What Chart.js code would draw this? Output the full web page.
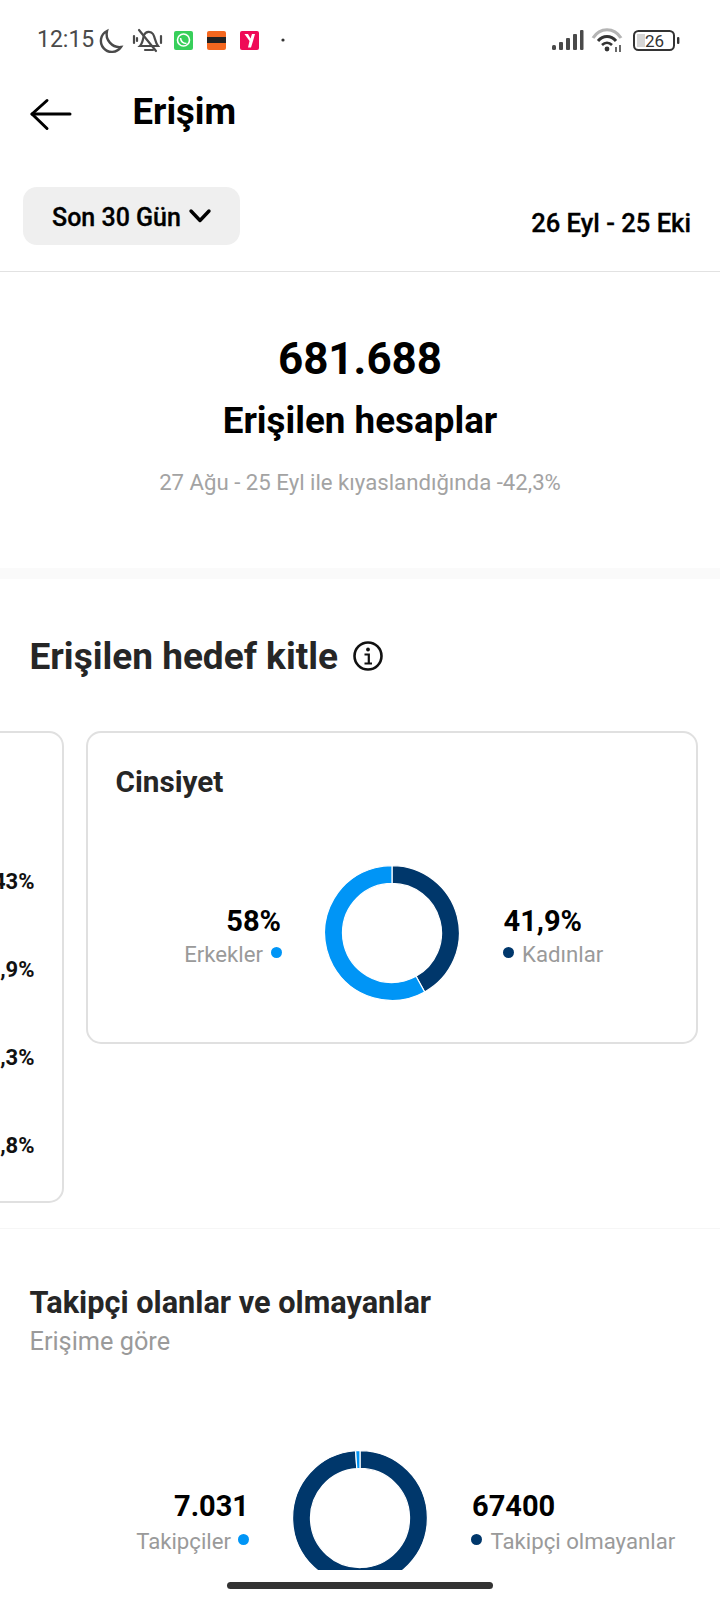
<!DOCTYPE html>
<html lang="tr">
<head>
<meta charset="utf-8">
<title>Erişim</title>
<script src="https://cdn.jsdelivr.net/npm/chart.js@4"></script>
<style>
html,body{margin:0;padding:0;background:#fff}
#page{position:relative;width:720px;height:1600px;overflow:hidden;background:#fff;font-family:Roboto,sans-serif}
.t{position:absolute;white-space:nowrap;line-height:40px;height:40px;margin-top:-20px}
.r{transform:translateX(-100%)}
.c{transform:translateX(-50%)}
.box{position:absolute;box-sizing:border-box}
.dot{position:absolute;width:11px;height:11px;border-radius:50%;margin:-5.5px 0 0 -5.5px}
svg{position:absolute;overflow:visible}
.clip{position:absolute;overflow:hidden}
canvas{display:block}
</style>
</head>
<body>
<div id="page">
  <!-- status bar -->
  <div class="t" style="left:37px;top:40px;font-size:23px;color:#4a4a4a">12:15</div>
  <svg style="left:0;top:0" width="720" height="60">
    <path d="M107 31 A11 11 0 1 0 121 47 A13 13 0 0 1 107 31 Z" fill="none" stroke="#4a4a4a" stroke-width="2.4"/>
    <g fill="none" stroke="#4a4a4a" stroke-width="2.2" stroke-linecap="round">
      <path d="M140 46 C143 43 143 38 144 35 C146 31 151 31 153 34 C155 37 155 42 158 46 Z"/>
      <path d="M145 50 H153"/><path d="M139 30 L156 51"/>
      <path d="M134 36 V43"/><path d="M161 36 V43"/><path d="M137 38 V41"/>
    </g>
    <rect x="174" y="31" width="19" height="19" rx="2" fill="#37cf5a"/>
    <circle cx="183.5" cy="40" r="6" fill="none" stroke="#fff" stroke-width="1.6"/>
    <path d="M180.5 38 C181 42 183 43.5 186.5 43.5" fill="none" stroke="#fff" stroke-width="1.6"/>
    <rect x="207" y="31" width="19" height="19" rx="2" fill="#f4671f"/>
    <rect x="207" y="37" width="19" height="6" fill="#222"/>
    <rect x="240" y="31" width="19" height="19" rx="2" fill="#ef0b57"/>
    <path d="M244.5 34 L249.5 41 L248 47.5 L251 47.5 L253 41 L255 34 L252 34 L250.5 38.5 L248 34 Z" fill="#fff"/>
    <circle cx="283" cy="40" r="1.6" fill="#333"/>
    <g fill="#4a4a4a">
      <rect x="552" y="45" width="4" height="5" rx="1.5"/><rect x="559" y="42" width="4" height="8" rx="1"/>
      <rect x="566" y="38" width="4" height="12" rx="1"/><rect x="573" y="34" width="4" height="16" rx="1"/>
      <rect x="580" y="30" width="3.5" height="20" rx="1"/>
    </g>
    <path d="M593 38 C600 27 614 27 621 38" fill="none" stroke="#b4b4b4" stroke-width="3.2"/>
    <path d="M598 41 C603 35 611 35 616 41" fill="none" stroke="#333" stroke-width="3"/>
    <path d="M602 45 C605 42 609 42 612 45" fill="none" stroke="#333" stroke-width="2.6"/>
    <circle cx="607" cy="49" r="2.4" fill="#333"/>
    <path d="M616 47 V52 M620 45 V52" stroke="#444" stroke-width="1.6"/>
    <rect x="634" y="31" width="40" height="19" rx="4.5" fill="none" stroke="#333" stroke-width="2"/>
    <rect x="637" y="34" width="8" height="13" fill="#d5d5d5"/>
    <rect x="677" y="37" width="2.4" height="7" rx="1" fill="#333"/>
    <!-- back arrow -->
    <g fill="none" stroke="#000" stroke-width="3" stroke-linecap="round" stroke-linejoin="round">
      <path d="M32 114 H70"/><path d="M47 100.5 L32 114 L47 128.5"/>
    </g>
  </svg>
  <div class="t" style="left:645px;top:41px;font-size:17px;color:#333">26</div>
  <div class="t" id="h1" style="left:132.5px;top:112px;font-size:36.5px;font-weight:700;color:#000">Erişim</div>
  <div class="box" style="left:22.5px;top:187px;width:217.5px;height:58px;border-radius:14px;background:#efefef"></div>
  <svg style="left:0;top:0" width="720" height="250">
    <path d="M191 211 L200 220.5 L209 211" fill="none" stroke="#000" stroke-width="3.4" stroke-linecap="round" stroke-linejoin="round"/>
  </svg>
  <div class="t" style="left:52px;top:218px;font-size:25px;font-weight:500;color:#000;-webkit-text-stroke:.3px #000">Son 30 Gün</div>
  <div class="t r" style="left:691px;top:223px;font-size:25.6px;font-weight:500;color:#000;-webkit-text-stroke:.3px #000">26 Eyl - 25 Eki</div>
  <div class="box" style="left:0;top:270.5px;width:720px;height:1.5px;background:#e2e2e2"></div>

  <div class="t c" style="left:360px;top:359px;font-size:44px;font-weight:700;color:#000">681.688</div>
  <div class="t c" style="left:360px;top:421px;font-size:36.8px;font-weight:700;color:#000">Erişilen hesaplar</div>
  <div class="t c" style="left:360px;top:482px;font-size:22.2px;color:#a3a3a3">27 Ağu - 25 Eyl ile kıyaslandığında -42,3%</div>
  <div class="box" style="left:0;top:568px;width:720px;height:11px;background:#fafafa"></div>

  <div class="t" style="left:29.5px;top:657px;font-size:37px;font-weight:700;color:#262626">Erişilen hedef kitle</div>
  <svg style="left:0;top:0" width="720" height="700">
    <circle cx="368" cy="656" r="13.5" fill="none" stroke="#111" stroke-width="2.6"/>
    <circle cx="368" cy="649.5" r="1.9" fill="#111"/>
    <path d="M364.5 654.5 H368.8 V663 M364.5 663.5 H372" fill="none" stroke="#111" stroke-width="2.2"/>
  </svg>

  <!-- cards -->
  <div class="box" style="left:-40px;top:731px;width:104px;height:472px;border:2px solid #e0e0e0;border-radius:15px"></div>
  <div class="box" style="left:85.5px;top:731px;width:612px;height:313px;border:2px solid #e0e0e0;border-radius:15px"></div>
  <div id="ageValues"></div>
  <div class="t" style="left:115.5px;top:782px;font-size:29.7px;font-weight:700;color:#262626">Cinsiyet</div>

  <div id="genderLegend"></div>
  <div class="clip" style="left:324px;top:864.5px;width:136px;height:136px"><canvas id="genderChart" width="136" height="136"></canvas></div>

  <div class="box" style="left:0;top:1228px;width:720px;height:1px;background:#f6f6f6"></div>
  <div class="t" style="left:29.5px;top:1303px;font-size:30.7px;font-weight:700;color:#262626">Takipçi olanlar ve olmayanlar</div>
  <div class="t" style="left:29.5px;top:1342px;font-size:25.3px;color:#9a9a9a">Erişime göre</div>

  <div id="followLegend"></div>
  <div class="clip" style="left:292px;top:1450px;width:136px;height:120px"><canvas id="followChart" width="136" height="136"></canvas></div>

  <div class="box" style="left:227px;top:1582px;width:266px;height:7px;border-radius:4px;background:#333"></div>
</div>

<script>
// Age card, only the right end of its values is on screen
const ageValueLabels = ["43%", ",9%", ",3%", ",8%"];

// Gender
const genderLabels = ["Kadınlar", "Erkekler"];
const genderValues = [41.9, 58];
const genderValueLabels = ["41,9%", "58%"];

// Followers / non-followers
const followLabels = ["Takipçi olmayanlar", "Takipçiler"];
const followValues = [674657, 7031];
const followValueLabels = ["67400", "7.031"];

const darkBlue = "#00376b";
const lightBlue = "#0095f6";

function addText(parent, text, cls, left, top, style) {
  const el = document.createElement("div");
  el.className = "t " + cls;
  el.textContent = text;
  el.style.cssText = "left:" + left + "px;top:" + top + "px;" + style;
  parent.appendChild(el);
}
function addDot(parent, left, top, color) {
  const el = document.createElement("div");
  el.className = "dot";
  el.style.cssText = "left:" + left + "px;top:" + top + "px;background:" + color;
  parent.appendChild(el);
}

const valueStyle = "font-size:29px;font-weight:700;color:#000";
const labelStyle = "font-size:22.2px;color:#9a9a9a";

const ageBox = document.getElementById("ageValues");
const ageRows = [882, 970, 1058, 1146];
ageValueLabels.forEach((s, i) => addText(ageBox, s, "r", 34.5, ageRows[i], "font-size:22px;font-weight:700;color:#111"));

const gBox = document.getElementById("genderLegend");
addText(gBox, genderValueLabels[1], "r", 281, 921, valueStyle);
addText(gBox, genderLabels[1], "r", 263, 954, labelStyle);
addDot(gBox, 276, 952.7, lightBlue);
addText(gBox, genderValueLabels[0], "", 503.5, 921, valueStyle);
addText(gBox, genderLabels[0], "", 522, 954, labelStyle);
addDot(gBox, 508.7, 952.7, darkBlue);

const fBox = document.getElementById("followLegend");
addText(fBox, followValueLabels[1], "r", 249, 1506, valueStyle);
addText(fBox, followLabels[1], "r", 231, 1540.5, labelStyle);
addDot(fBox, 243.6, 1539, lightBlue);
addText(fBox, followValueLabels[0], "", 472, 1506, valueStyle);
addText(fBox, followLabels[0], "", 490.5, 1540.5, labelStyle);
addDot(fBox, 476.6, 1539, darkBlue);

function donut(id, labels, values, colors) {
  return new Chart(document.getElementById(id), {
    type: "doughnut",
    data: { labels: labels, datasets: [{ data: values, backgroundColor: colors, borderColor: "#ffffff", borderWidth: 1.2 }] },
    options: {
      responsive: false,
      animation: false,
      cutout: "73.5%",
      layout: { padding: 0 },
      plugins: { legend: { display: false }, tooltip: { enabled: false } }
    }
  });
}
donut("genderChart", genderLabels, genderValues, [darkBlue, lightBlue]);
donut("followChart", followLabels, followValues, [darkBlue, lightBlue]);
</script>
</body>
</html>
